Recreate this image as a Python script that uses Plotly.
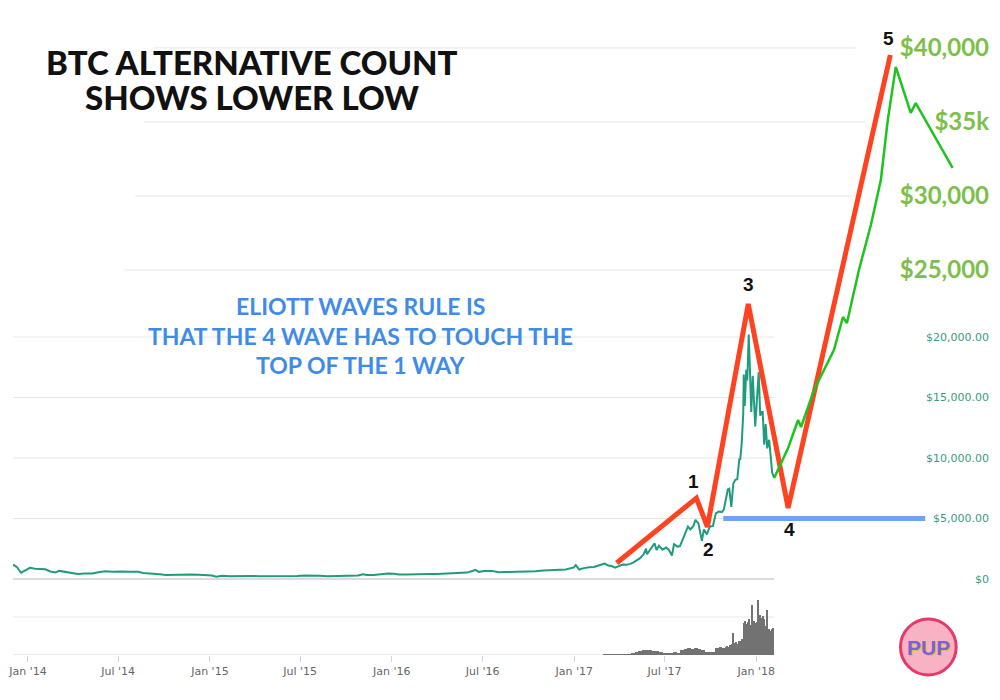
import pandas as pd
import plotly.graph_objects as gr

# 1. DATA
price_dates = [
    "2013-11-16", "2013-11-22", "2013-11-30", "2013-12-04", "2013-12-10", "2013-12-18", "2013-12-24",
    "2014-01-05", "2014-01-15", "2014-01-25", "2014-02-05", "2014-02-15", "2014-02-25", "2014-03-05",
    "2014-03-20", "2014-04-01", "2014-04-11", "2014-04-25", "2014-05-10", "2014-05-25", "2014-06-05",
    "2014-06-20", "2014-07-05", "2014-07-25", "2014-08-10", "2014-08-20", "2014-09-05", "2014-09-22",
    "2014-10-05", "2014-10-25", "2014-11-10", "2014-11-25", "2014-12-10", "2014-12-25",
    "2015-01-05", "2015-01-14", "2015-01-25", "2015-02-10", "2015-02-25", "2015-03-10", "2015-03-25",
    "2015-04-10", "2015-04-25", "2015-05-10", "2015-05-25", "2015-06-10", "2015-06-25", "2015-07-10",
    "2015-07-25", "2015-08-10", "2015-08-25", "2015-09-10", "2015-09-25", "2015-10-10", "2015-10-25",
    "2015-11-04", "2015-11-12", "2015-11-25", "2015-12-10", "2015-12-25",
    "2016-01-05", "2016-01-15", "2016-01-31", "2016-02-15", "2016-02-29", "2016-03-15", "2016-03-31",
    "2016-04-15", "2016-04-30", "2016-05-15", "2016-05-31", "2016-06-12", "2016-06-17", "2016-06-23",
    "2016-07-05", "2016-07-20", "2016-08-02", "2016-08-15", "2016-08-31", "2016-09-15", "2016-09-30",
    "2016-10-15", "2016-10-31", "2016-11-15", "2016-11-30", "2016-12-15", "2016-12-31",
    "2017-01-04", "2017-01-11", "2017-01-20", "2017-01-31", "2017-02-10", "2017-02-23", "2017-03-03",
    "2017-03-10", "2017-03-17", "2017-03-24", "2017-03-31", "2017-04-08", "2017-04-15", "2017-04-22",
    "2017-04-29", "2017-05-06", "2017-05-13", "2017-05-20", "2017-05-25", "2017-05-27", "2017-06-03",
    "2017-06-11", "2017-06-15", "2017-06-20", "2017-06-27", "2017-07-04", "2017-07-10", "2017-07-16",
    "2017-07-20", "2017-07-27", "2017-08-01", "2017-08-07", "2017-08-13", "2017-08-17", "2017-08-22",
    "2017-08-28", "2017-09-01", "2017-09-07", "2017-09-14", "2017-09-18", "2017-09-24", "2017-09-30",
    "2017-10-06", "2017-10-12", "2017-10-18", "2017-10-24", "2017-10-28", "2017-11-01", "2017-11-05",
    "2017-11-08", "2017-11-12", "2017-11-16", "2017-11-20", "2017-11-24", "2017-11-28", "2017-11-30",
    "2017-12-03", "2017-12-06", "2017-12-07", "2017-12-09", "2017-12-12", "2017-12-14", "2017-12-17",
    "2017-12-19", "2017-12-22", "2017-12-25", "2017-12-28", "2017-12-30", "2018-01-03", "2018-01-06",
    "2018-01-09", "2018-01-12", "2018-01-14", "2018-01-17", "2018-01-20", "2018-01-23", "2018-01-27",
    "2018-01-30", "2018-02-02", "2018-02-06",
]
price_values = [
    440, 800, 1130, 1150, 980, 520, 660,
    930, 850, 830, 800, 620, 540, 670,
    580, 470, 420, 460, 450, 570, 650,
    590, 630, 600, 590, 500, 480, 400,
    330, 360, 370, 380, 350, 320,
    280, 180, 260, 220, 240, 290, 250,
    235, 225, 240, 240, 230, 245, 290,
    290, 265, 220, 240, 235, 245, 290,
    400, 330, 325, 420, 455,
    430, 380, 375, 400, 435, 415, 415,
    430, 450, 455, 530, 680, 750, 590,
    670, 670, 550, 570, 575, 610, 610,
    640, 700, 710, 740, 780, 960,
    1150, 780, 900, 970, 990, 1180, 1270,
    1110, 1070, 930, 1070, 1190, 1180, 1230,
    1350, 1550, 1720, 2040, 2500, 2050, 2520,
    2950, 2400, 2750, 2430, 2600, 2400, 1930,
    2870, 2670, 2720, 3380, 4060, 4330, 4090,
    4380, 4890, 4600, 3150, 4100, 3680, 4340,
    4380, 5430, 5570, 5530, 5730, 6740, 7400,
    7460, 5950, 7870, 8200, 8250, 9890, 9900,
    11300, 13700, 16900, 14300, 17300, 16400, 20200,
    17800, 13800, 16800, 14600, 12600, 15200, 17100,
    13500, 13800, 13800, 11100, 12800, 10800, 11500,
    10100, 8800, 8350,
]

# volume in billions: weekly bars, then 3-day bars for the blow-off
vol_week_dates = pd.date_range("2017-03-04", "2017-10-28", freq="7D")
vol_week_values = [
    0.1, 0.1, 0.2, 0.1,
    0.1, 0.1, 0.1, 0.1, 0.3,
    0.9, 1.0, 1.2, 1.3,
    1.2, 1.1, 1.0, 0.8,
    0.6, 0.5, 0.6, 0.7, 0.6,
    1.2, 1.6, 1.8, 1.6,
    1.9, 1.5, 1.2, 0.8, 0.7,
    0.9, 1.9, 2.0, 1.8,
]
vol_late_dates = pd.date_range("2017-11-01", "2018-02-05", freq="3D")
vol_late_values = [
    2.0, 2.3, 2.1, 2.6, 3.0, 5.8, 3.2, 3.4, 3.0, 3.6,
    3.8, 4.2, 8.4, 9.0, 8.2, 8.6, 9.5, 8.0, 13.2, 9.0,
    8.4, 8.8, 14.5, 10.4, 9.8, 10.2, 9.6, 7.6, 11.8, 6.8,
    6.4, 6.8, 7.1,
]

# hand drawn wave count (price scale of the real chart)
wave_dates = ["2017-03-27", "2017-09-03", "2017-09-25", "2017-12-16", "2018-03-06", "2018-09-27"]
wave_values = [1320, 6690, 4300, 22730, 5870, 43300]
wave_labels = ["", "1", "2", "3", "4", "5"]

# hand drawn projection (against the big green price labels)
proj_dates = [
    "2018-02-06", "2018-03-06", "2018-03-26", "2018-04-01", "2018-04-27", "2018-05-15",
    "2018-06-06", "2018-06-24", "2018-07-02", "2018-07-26", "2018-08-19", "2018-09-08",
    "2018-09-22", "2018-10-08", "2018-10-24", "2018-11-07", "2018-11-17", "2018-12-17", "2019-01-30",
]
proj_values = [
    10950, 12970, 14860, 14390, 16890, 18100,
    19600, 21820, 21420, 25000, 28040, 31080,
    35140, 38720, 37100, 35610, 36280, 34460, 31890,
]

# $5,000 support line
support_dates = ["2017-10-27", "2018-12-06"]
support_values = [5000, 5000]

price_ticks = [0, 5000, 10000, 15000, 20000]
price_tick_text = ["$0", "$5,000.00", "$10,000.00", "$15,000.00", "$20,000.00"]
upper_ticks = [25000, 30000, 35000, 40000]
upper_tick_text = ["$25,000", "$30,000", "$35k", "$40,000"]
month_ticks = ["2014-01-01", "2014-07-01", "2015-01-01", "2015-07-01", "2016-01-01",
               "2016-07-01", "2017-01-01", "2017-07-01", "2018-01-01"]

title_lines = ["BTC ALTERNATIVE COUNT", "SHOWS LOWER LOW"]
rule_lines = ["ELIOTT WAVES RULE IS", "THAT THE 4 WAVE HAS TO TOUCH THE", "TOP OF THE 1 WAY"]

# the page body keeps an 8px margin all round, so the figure is shrunk to fit
# without scrollbars and everything is placed in page pixels through px/py
W, H = 984, 684


def px(x):
    return (x - 8) / W


def py(y):
    return (692 - y) / H


# price panel: $0 sits at page y 579, 60.5px per $5,000; the panel runs a little
# below $0 so the "$0" label stays inside it
price_per_px = 5000 / 60.5
price_bottom_px = 590
price_range = [-(price_bottom_px - 579) * price_per_px, (579 - 8) * price_per_px]
upper_per_px = 1000 / 14.8
upper_range = [4120 - (price_bottom_px - 579) * upper_per_px, 42700]

# 2. TRACES
fig = gr.Figure()
fig.add_trace(gr.Bar(x=vol_week_dates, y=vol_week_values, width=7 * 86400000, xaxis="x", yaxis="y3",
                     marker=dict(color="#727272", line=dict(width=0))))
fig.add_trace(gr.Bar(x=vol_late_dates, y=vol_late_values, width=3 * 86400000, xaxis="x", yaxis="y3",
                     marker=dict(color="#727272", line=dict(width=0))))
fig.add_trace(gr.Scatter(x=price_dates, y=price_values, mode="lines", xaxis="x", yaxis="y",
                         line=dict(color="#1f9c7c", width=2)))
fig.add_trace(gr.Scatter(x=proj_dates, y=proj_values, mode="lines", xaxis="x", yaxis="y2",
                         line=dict(color="#1ec41e", width=2.5)))
fig.add_trace(gr.Scatter(x=support_dates, y=support_values, mode="lines", xaxis="x", yaxis="y",
                         line=dict(color="#6ea2f2", width=5)))
fig.add_trace(gr.Scatter(x=wave_dates, y=wave_values, mode="lines", xaxis="x", yaxis="y",
                         line=dict(color="#ff4321", width=5)))

# 3. GRIDLINES (drawn only across the original chart width)
grid_right = px(773)
for v in price_ticks:
    fig.add_shape(type="line", xref="paper", yref="y", x0=0, x1=grid_right, y0=v, y1=v, layer="below",
                  line=dict(color="#dcdcdc" if v == 0 else "#e6e6e6", width=2 if v == 0 else 1))
upper_extent = [(120, 842), (131, 855), (140, 865), (150, 855)]
for v, (a, b) in zip(upper_ticks, upper_extent):
    fig.add_shape(type="line", xref="paper", yref="y2", x0=px(a), x1=px(b), y0=v, y1=v, layer="below",
                  line=dict(color="#e6e6e6", width=1))
fig.add_shape(type="line", xref="paper", yref="y3", x0=0, x1=grid_right, y0=10, y1=10, layer="below",
              line=dict(color="#e6e6e6", width=1))
fig.add_shape(type="line", xref="paper", yref="y3", x0=0, x1=grid_right, y0=0, y1=0, layer="below",
              line=dict(color="#ccd6eb", width=1))

# 4. TEXT
for text, y in zip(title_lines, [61.5, 96.5]):
    fig.add_annotation(text=text, xref="paper", yref="paper", x=px(248), y=py(y), showarrow=False,
                       xanchor="center", yanchor="middle",
                       font=dict(family="Lato", size=33, color="#111111", weight=900))
for text, y in zip(rule_lines, [305.5, 336, 365]):
    fig.add_annotation(text=text, xref="paper", yref="paper", x=px(357), y=py(y), showarrow=False,
                       xanchor="center", yanchor="middle",
                       font=dict(family="Lato", size=23, color="#3f8be8", weight="bold"))
label_shift = [(0, 0), (-3, 17), (1, -23), (0, 19), (1, -22), (-2, 17)]
for d, v, lab, (dx, dy) in zip(wave_dates, wave_values, wave_labels, label_shift):
    if lab:
        fig.add_annotation(text=lab, x=d, y=v, xref="x", yref="y", showarrow=False, xshift=dx, yshift=dy,
                           font=dict(family="Liberation Sans", size=19, color="#111111", weight="bold"))

# little PUP badge
fig.add_shape(type="circle", xref="paper", yref="paper", x0=px(900), x1=px(956), y0=py(675), y1=py(619),
              fillcolor="#f7b3c4", line=dict(color="#e8386a", width=3))
fig.add_annotation(text="PUP", xref="paper", yref="paper", x=px(928), y=py(647), showarrow=False,
                   xanchor="center", yanchor="middle",
                   font=dict(family="Liberation Sans", size=21, color="#7b5fdc", weight="bold",
                             shadow="1px 1px 1px #d9c23a"))

# 5. AXES
fig.update_layout(
    width=W, height=H, margin=dict(l=0, r=0, t=0, b=0),
    paper_bgcolor="white", plot_bgcolor="white", showlegend=False, bargap=0,
    xaxis=dict(domain=[0, 1], anchor="y3", type="date", range=["2013-12-02", "2019-04-19"],
               tickvals=month_ticks, tickformat="%b '%y", ticks="outside", ticklen=6, tickcolor="#ccd6eb",
               tickfont=dict(family="DejaVu Sans", size=11, color="#666666"), ticklabeloverflow="allow",
               showgrid=False, showline=False, zeroline=False),
    yaxis=dict(domain=[py(price_bottom_px), 1], anchor="x", side="right", range=price_range,
               tickvals=price_ticks, ticktext=price_tick_text, ticklabelposition="inside",
               tickfont=dict(family="DejaVu Sans", size=11, color="#3a9b7e"),
               showgrid=False, zeroline=False, ticks=""),
    yaxis2=dict(overlaying="y", anchor="x", side="right", range=upper_range,
                tickvals=upper_ticks, ticktext=upper_tick_text, ticklabelposition="inside",
                tickfont=dict(family="Lato", size=24, color="#7cc04a", weight="bold"),
                showgrid=False, zeroline=False, ticks=""),
    yaxis3=dict(domain=[py(655), py(598)], anchor="x", range=[0, 15], showticklabels=False,
                showgrid=False, zeroline=False, ticks=""),
)

fig.write_html("out.html")
